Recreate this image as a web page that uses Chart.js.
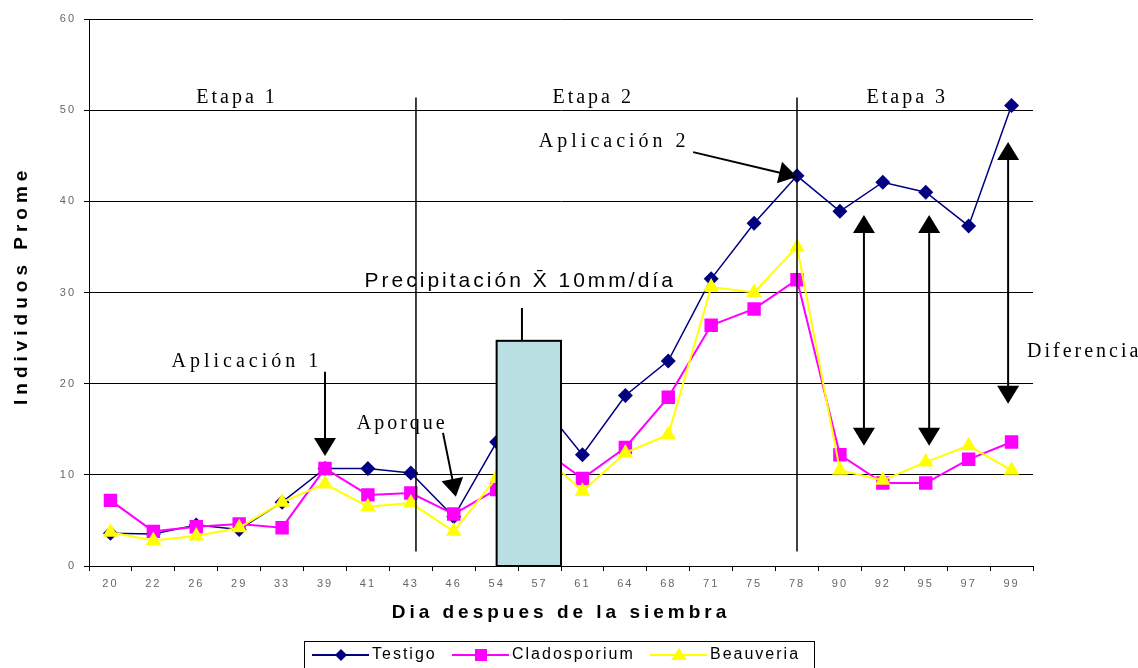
<!DOCTYPE html>
<html>
<head>
<meta charset="utf-8">
<script src="https://cdn.jsdelivr.net/npm/chart.js@4"></script>
<style>
  body { margin: 0; background: #fff; }
  #wrap { width: 1138px; height: 668px; position: relative; }
</style>
</head>
<body>
<div id="wrap"><canvas id="chart"></canvas></div>
<script>
// data
const dias = ["20", "22", "26", "29", "33", "39", "41", "43", "46", "54", "57", "61", "64", "68", "71", "75", "78", "90", "92", "95", "97", "99"];
const testigo = [3.6, 3.5, 4.5, 4.0, 7.0, 10.7, 10.7, 10.2, 5.4, 13.6, 18.0, 12.2, 18.7, 22.5, 31.5, 37.6, 42.8, 38.9, 42.1, 41.0, 37.3, 50.5];
const cladosporium = [7.2, 3.8, 4.3, 4.6, 4.2, 10.7, 7.8, 8.0, 5.7, 8.4, 13.0, 9.6, 13.0, 18.5, 26.4, 28.2, 31.4, 12.2, 9.1, 9.1, 11.7, 13.6];
const beauveria = [3.7, 2.8, 3.3, 4.2, 7.0, 9.0, 6.5, 6.9, 3.8, 9.7, 12.5, 8.2, 12.4, 14.4, 30.6, 30.0, 35.0, 10.5, 9.4, 11.4, 13.2, 10.5];
const precipitacion = 24.7;
const yMax = 60;
const yStep = 10;

const serif = "'Liberation Serif', 'Times New Roman', serif";
const sans = "'Liberation Sans', Arial, sans-serif";

// text spacing like the original (wide tracking everywhere)
const tracking = {
  id: "tracking",
  beforeDraw(chart) { chart.ctx.letterSpacing = "2px"; }
};

function arrowHead(ctx, x1, y1, x2, y2, len, half) {
  const a = Math.atan2(y2 - y1, x2 - x1);
  ctx.beginPath();
  ctx.moveTo(x2, y2);
  ctx.lineTo(x2 - len * Math.cos(a) + half * Math.sin(a), y2 - len * Math.sin(a) - half * Math.cos(a));
  ctx.lineTo(x2 - len * Math.cos(a) - half * Math.sin(a), y2 - len * Math.sin(a) + half * Math.cos(a));
  ctx.closePath();
  ctx.fill();
}

function arrow(ctx, x1, y1, x2, y2) {
  const a = Math.atan2(y2 - y1, x2 - x1);
  ctx.beginPath();
  ctx.moveTo(x1, y1);
  ctx.lineTo(x2 - 10 * Math.cos(a), y2 - 10 * Math.sin(a));
  ctx.stroke();
  arrowHead(ctx, x1, y1, x2, y2, 18, 11);
}

const notas = {
  id: "notas",
  afterDraw(chart) {
    const ctx = chart.ctx;
    const xs = chart.scales.x, ys = chart.scales.y;
    const X = i => xs.getPixelForValue(0) + i * (xs.getPixelForValue(1) - xs.getPixelForValue(0));
    const Y = v => ys.getPixelForValue(v);
    ctx.save();
    ctx.strokeStyle = "#000";
    ctx.fillStyle = "#000";

    // precipitation box
    const bx0 = X(9), bx1 = X(10.5), by = Y(precipitacion);
    ctx.fillStyle = "#badfe3";
    ctx.fillRect(bx0, by, bx1 - bx0, Y(0) - by);
    ctx.lineWidth = 2;
    ctx.strokeRect(bx0, by, bx1 - bx0, Y(0) - by);
    ctx.beginPath();
    ctx.moveTo(X(9.59), by);
    ctx.lineTo(X(9.59), Y(28.3));
    ctx.stroke();

    // stage separators
    ctx.lineWidth = 1.5;
    [7.12, 16].forEach(i => {
      ctx.beginPath();
      ctx.moveTo(X(i), Y(51.4));
      ctx.lineTo(X(i), Y(1.6));
      ctx.stroke();
    });

    ctx.fillStyle = "#000";
    ctx.textBaseline = "middle";
    ctx.font = "20px " + serif;
    ctx.letterSpacing = "3px";
    ctx.textAlign = "center";
    ctx.fillText("Etapa 1", X(2.95), Y(51.4));
    ctx.fillText("Etapa 2", X(11.25), Y(51.4));
    ctx.fillText("Etapa 3", X(18.57), Y(51.4));
    ctx.fillText("Aporque", X(6.8), Y(15.6));
    ctx.letterSpacing = "4px";
    ctx.fillText("Aplicación 2", X(11.74), Y(46.5));
    ctx.fillText("Aplicación 1", X(3.18), Y(22.4));
    ctx.letterSpacing = "3px";
    ctx.textAlign = "left";
    ctx.fillText("Diferencia", X(21.36), Y(23.5));

    ctx.font = "21px " + sans;
    ctx.letterSpacing = "3px";
    ctx.textAlign = "center";
    ctx.fillText("Precipitación X\u0304 10mm/día", X(9.55), Y(31.25));

    // arrows
    ctx.lineWidth = 2;
    arrow(ctx, X(13.58), Y(45.4), X(16), Y(42.7));
    arrow(ctx, X(5), Y(21.3), X(5), Y(12.06));
    arrow(ctx, X(7.75), Y(14.6), X(8.05), Y(7.6));
    [[17.56, 38.5, 13.2], [19.08, 38.5, 13.2], [20.92, 46.5, 17.8]].forEach(([i, top, bot]) => {
      const x = X(i);
      ctx.beginPath();
      ctx.moveTo(x, Y(top) + 10);
      ctx.lineTo(x, Y(bot) - 10);
      ctx.stroke();
      arrowHead(ctx, x, Y(bot), x, Y(top), 18, 11);
      arrowHead(ctx, x, Y(top), x, Y(bot), 18, 11);
    });

    // y axis title, cut off like the original
    ctx.save();
    ctx.beginPath();
    ctx.rect(0, 168, 60, 500);
    ctx.clip();
    ctx.translate(22, 405);
    ctx.rotate(-Math.PI / 2);
    ctx.font = "bold 19px " + sans;
    ctx.letterSpacing = "5px";
    ctx.textAlign = "left";
    ctx.fillText("Individuos Promedio", 0, 0);
    ctx.restore();

    // legend
    const ly = 655;
    ctx.lineWidth = 1;
    ctx.strokeStyle = "#000";
    ctx.strokeRect(304.5, 641.5, 510, 27);
    ctx.font = "16px " + sans;
    ctx.letterSpacing = "2px";
    ctx.textAlign = "left";
    const items = [
      { t: "Testigo", c: "#000080", x: 312, m: "d" },
      { t: "Cladosporium", c: "#ff00ff", x: 452, m: "s" },
      { t: "Beauveria", c: "#ffff00", x: 650, m: "t" }
    ];
    items.forEach(it => {
      ctx.strokeStyle = it.c;
      ctx.fillStyle = it.c;
      ctx.lineWidth = 2;
      ctx.beginPath();
      ctx.moveTo(it.x, ly);
      ctx.lineTo(it.x + 57, ly);
      ctx.stroke();
      const cx = it.x + 29;
      ctx.beginPath();
      if (it.m === "d") {
        ctx.moveTo(cx, ly - 6); ctx.lineTo(cx + 6, ly); ctx.lineTo(cx, ly + 6); ctx.lineTo(cx - 6, ly);
      } else if (it.m === "s") {
        ctx.rect(cx - 6, ly - 6, 12, 12);
      } else {
        ctx.moveTo(cx, ly - 7); ctx.lineTo(cx + 8, ly + 5); ctx.lineTo(cx - 8, ly + 5);
      }
      ctx.closePath();
      ctx.fill();
      ctx.fillStyle = "#000";
      ctx.fillText(it.t, it.x + 60, ly);
    });
    ctx.restore();
  }
};

// x title drawn by the scale, wider tracking than the ticks
const titleTracking = {
  id: "titleTracking",
  beforeDraw(chart) {
    const xs = chart.scales.x;
    const orig = xs.drawTitle;
    if (!xs._tracked) {
      xs.drawTitle = function () {
        this.ctx.save();
        this.ctx.letterSpacing = "4px";
        orig.apply(this, arguments);
        this.ctx.restore();
      };
      xs._tracked = true;
    }
  }
};

new Chart(document.getElementById("chart"), {
  type: "line",
  data: {
    labels: dias,
    datasets: [
      {
        label: "Testigo",
        data: testigo,
        borderColor: "#000080",
        backgroundColor: "#000080",
        borderWidth: 1.5,
        pointStyle: "rectRot",
        pointRadius: 7.5,
        pointBorderWidth: 0,
        order: 3
      },
      {
        label: "Cladosporium",
        data: cladosporium,
        borderColor: "#ff00ff",
        backgroundColor: "#ff00ff",
        borderWidth: 2,
        pointStyle: "rect",
        pointRadius: 9.5,
        pointBorderWidth: 0,
        order: 2
      },
      {
        label: "Beauveria",
        data: beauveria,
        borderColor: "#ffff00",
        backgroundColor: "#ffff00",
        borderWidth: 2,
        pointStyle: "triangle",
        pointRadius: 9,
        pointBorderWidth: 0,
        order: 1
      }
    ]
  },
  options: {
    responsive: true,
    maintainAspectRatio: false,
    animation: false,
    layout: { padding: { left: 0, top: 19, right: 105, bottom: 0 } },
    plugins: {
      legend: { display: false },
      tooltip: { enabled: false }
    },
    scales: {
      x: {
        offset: true,
        grid: { offset: true, drawOnChartArea: false, color: "#000", tickLength: 5 },
        border: { color: "#000", width: 1 },
        ticks: { color: "#666", font: { family: sans, size: 11 }, padding: 6, maxRotation: 0, autoSkip: false },
        title: {
          display: true,
          text: "Dia despues de la siembra",
          color: "#000",
          font: { family: sans, size: 19, weight: "bold" },
          padding: { top: 0, bottom: 44 }
        },
        afterFit(scale) { scale.height = 102; }
      },
      y: {
        min: 0,
        max: yMax,
        grid: { color: "#000", tickLength: 5 },
        border: { color: "#000", width: 1 },
        ticks: { stepSize: yStep, color: "#666", font: { family: sans, size: 11 }, padding: 8 },
        afterFit(scale) { scale.width = 89; }
      }
    }
  },
  plugins: [tracking, titleTracking, notas]
});
</script>
</body>
</html>
